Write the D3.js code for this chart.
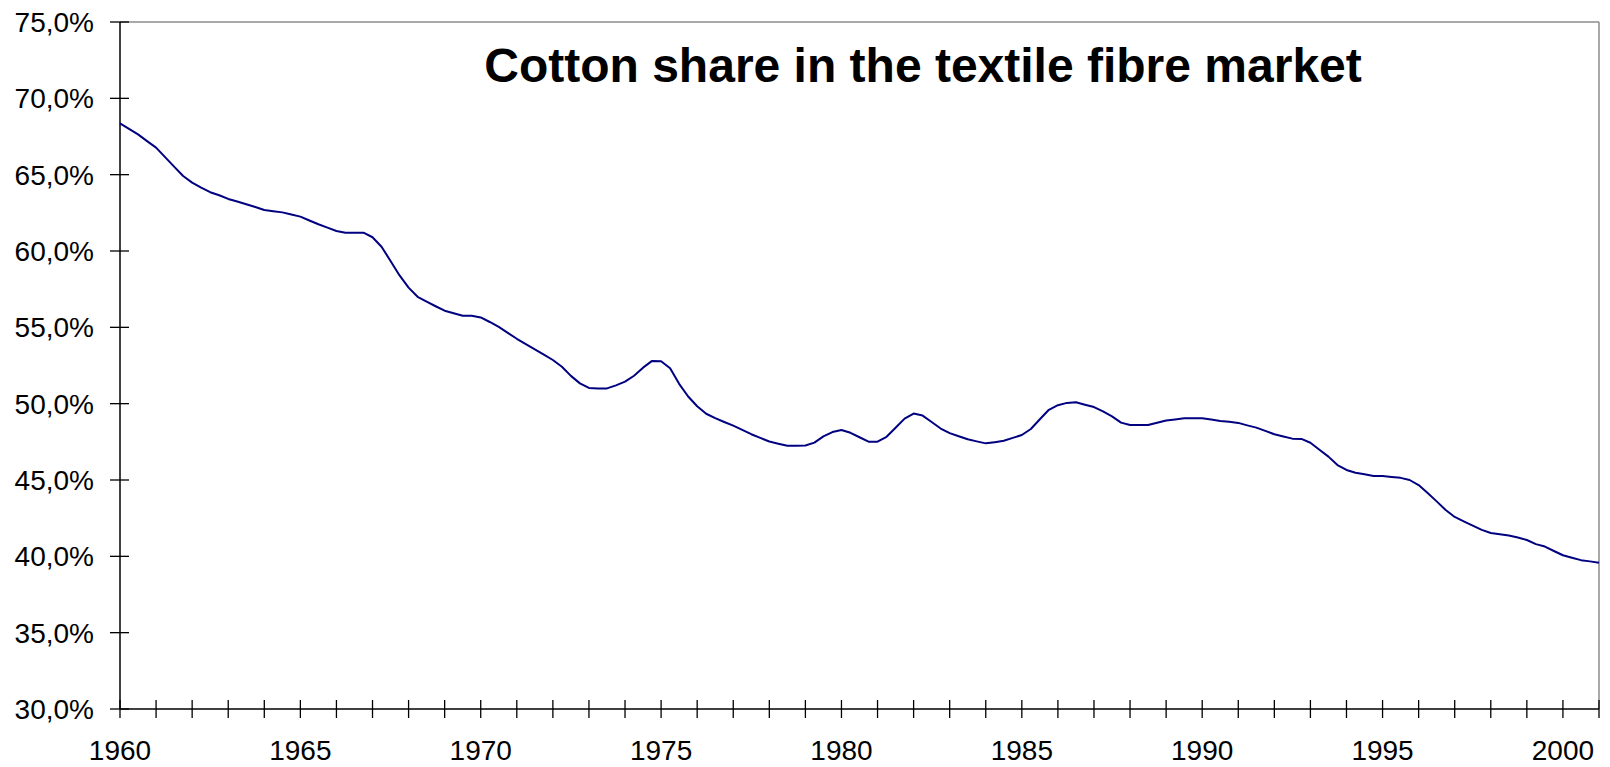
<!DOCTYPE html>
<html>
<head>
<meta charset="utf-8">
<script src="https://cdn.jsdelivr.net/npm/d3@7"></script>
<style>
  html, body { margin: 0; padding: 0; background: #fff; }
  svg { display: block; }
</style>
</head>
<body>
<svg id="chart" width="1610" height="767"></svg>
<script>
// ---- Data ----
const title = "Cotton share in the textile fibre market";
const startYear = 1960;
const endYear = 2001;
// quarterly cotton share (%), 1960 Q1 .. 2001 Q1
const share = [
  68.36, 68.00, 67.64, 67.20,
  66.77, 66.15, 65.53, 64.91,
  64.48, 64.15, 63.85, 63.65,
  63.41, 63.24, 63.06, 62.88,
  62.69, 62.61, 62.53, 62.39,
  62.25, 62.00, 61.75, 61.53,
  61.31, 61.20, 61.20, 61.20,
  60.90, 60.28, 59.35, 58.40,
  57.60, 57.00, 56.68, 56.38,
  56.09, 55.92, 55.76, 55.76,
  55.65, 55.35, 55.03, 54.64,
  54.25, 53.90, 53.56, 53.21,
  52.86, 52.42, 51.82, 51.33,
  51.03, 51.00, 51.00, 51.20,
  51.44, 51.83, 52.36, 52.80,
  52.78, 52.32, 51.30, 50.47,
  49.83, 49.34, 49.05, 48.80,
  48.56, 48.28, 48.00, 47.76,
  47.52, 47.38, 47.25, 47.25,
  47.26, 47.45, 47.86, 48.14,
  48.28, 48.09, 47.80, 47.51,
  47.51, 47.83, 48.42, 49.02,
  49.35, 49.22, 48.80, 48.37,
  48.07, 47.87, 47.67, 47.53,
  47.40, 47.48, 47.57, 47.76,
  47.95, 48.34, 48.98, 49.60,
  49.90, 50.05, 50.09, 49.93,
  49.78, 49.49, 49.17, 48.76,
  48.60, 48.60, 48.60, 48.75,
  48.90, 48.97, 49.04, 49.04,
  49.04, 48.96, 48.87, 48.81,
  48.74, 48.58, 48.43, 48.22,
  48.00, 47.85, 47.71, 47.69,
  47.44, 46.98, 46.53, 45.98,
  45.66, 45.48, 45.37, 45.26,
  45.26, 45.20, 45.14, 45.00,
  44.67, 44.15, 43.60, 43.03,
  42.58, 42.29, 42.01, 41.73,
  41.53, 41.45, 41.37, 41.23,
  41.07, 40.80, 40.64, 40.35,
  40.07, 39.91, 39.75, 39.67,
  39.58
];
const yTicks = [30, 35, 40, 45, 50, 55, 60, 65, 70, 75];
const xTickYears = d3.range(startYear, endYear + 1);
const xLabelYears = [1960, 1965, 1970, 1975, 1980, 1985, 1990, 1995, 2000];

// ---- Layout ----
const plotL = 120, plotR = 1599, plotT = 22, plotB = 709;
const svg = d3.select("#chart");
const x = d3.scaleLinear().domain([startYear, endYear]).range([plotL, plotR]);
const y = d3.scaleLinear().domain([30, 75]).range([plotB, plotT]);
const font = "'Liberation Sans', Arial, Helvetica, sans-serif";

svg.append("rect").attr("width", 1610).attr("height", 767).attr("fill", "#fff");

// plot border (top/right gray)
svg.append("line").attr("x1", plotL).attr("x2", plotR).attr("y1", plotT).attr("y2", plotT)
  .attr("stroke", "#8c8c8c").attr("stroke-width", 1.5);
svg.append("line").attr("x1", plotR).attr("x2", plotR).attr("y1", plotT).attr("y2", plotB)
  .attr("stroke", "#8c8c8c").attr("stroke-width", 1.5);

// y axis
svg.append("line").attr("x1", plotL).attr("x2", plotL).attr("y1", plotT).attr("y2", plotB)
  .attr("stroke", "#000").attr("stroke-width", 1.5);
svg.append("g").selectAll("line").data(yTicks).join("line")
  .attr("x1", plotL - 10).attr("x2", plotL + 9)
  .attr("y1", d => y(d)).attr("y2", d => y(d))
  .attr("stroke", "#000").attr("stroke-width", 1.3);
svg.append("g").selectAll("text").data(yTicks).join("text")
  .attr("x", 94).attr("y", d => y(d) + 10)
  .attr("text-anchor", "end")
  .attr("font-family", font).attr("font-size", 28).attr("fill", "#000")
  .text(d => d3.format(".1f")(d).replace(".", ",") + "%");

// x axis
svg.append("line").attr("x1", plotL).attr("x2", plotR).attr("y1", plotB).attr("y2", plotB)
  .attr("stroke", "#000").attr("stroke-width", 1.5);
svg.append("g").selectAll("line").data(xTickYears).join("line")
  .attr("x1", d => x(d)).attr("x2", d => x(d))
  .attr("y1", plotB - 9).attr("y2", plotB + 9)
  .attr("stroke", "#000").attr("stroke-width", 1.3);
svg.append("g").selectAll("text").data(xLabelYears).join("text")
  .attr("x", d => x(d)).attr("y", 760)
  .attr("text-anchor", "middle")
  .attr("font-family", font).attr("font-size", 28).attr("fill", "#000")
  .text(d => d);

// data line
const line = d3.line()
  .x((d, i) => x(startYear + i / 4))
  .y(d => y(d));
svg.append("path").datum(share)
  .attr("d", line)
  .attr("fill", "none")
  .attr("stroke", "#000080")
  .attr("stroke-width", 2)
  .attr("stroke-linejoin", "round");

// title
svg.append("text")
  .attr("x", 923).attr("y", 82)
  .attr("text-anchor", "middle")
  .attr("font-family", font).attr("font-size", 48).attr("font-weight", "bold")
  .attr("fill", "#000")
  .text(title);
</script>
</body>
</html>
